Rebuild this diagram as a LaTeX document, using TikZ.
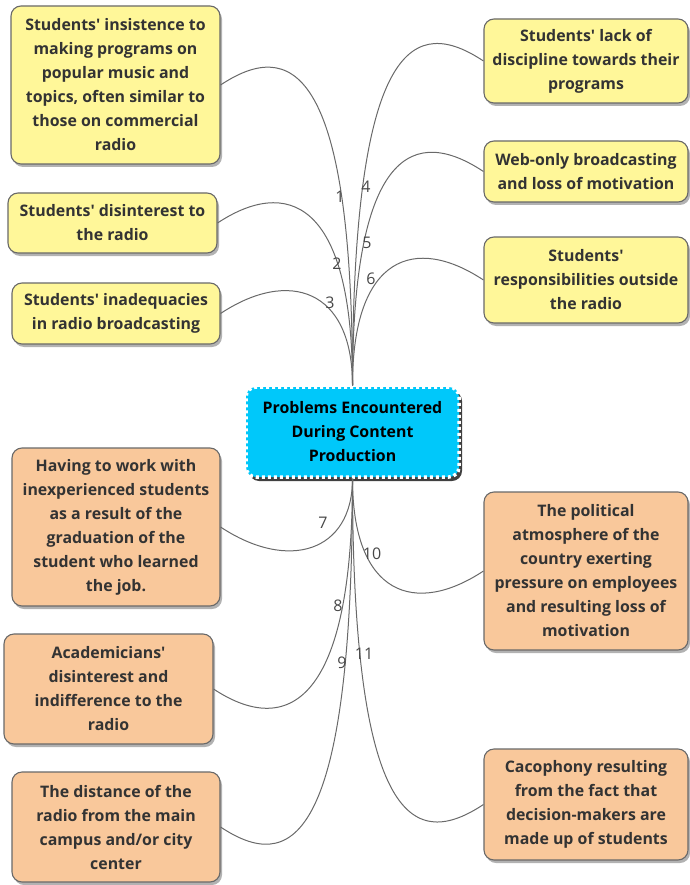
\documentclass[tikz,border=0pt]{standalone}
\usepackage{fontspec}
\setmainfont{Open Sans}
\usetikzlibrary{shadows,calc}

\definecolor{boxyellow}{RGB}{255,247,153}
\definecolor{boxorange}{RGB}{249,200,155}
\definecolor{hubcyan}{RGB}{0,200,250}
\definecolor{edgegray}{RGB}{105,105,105}
\definecolor{txt}{RGB}{51,51,51}

% straight apostrophe
\newcommand\apos{\textquotesingle}

\tikzset{
  card/.style={rounded corners=10pt, draw=edgegray, line width=1.1pt, text=txt,
    font=\bfseries\fontsize{15.9}{24}\selectfont, align=center, inner sep=0pt,
    drop shadow={shadow xshift=2pt, shadow yshift=-3pt, opacity=0.3, fill=black}},
  yel/.style={card, fill=boxyellow},
  ora/.style={card, fill=boxorange},
  hub/.style={rounded corners=10pt, fill=hubcyan, draw=white, line width=3.5pt,
    dash pattern=on 3pt off 3pt, text=black,
    font=\bfseries\fontsize{15.9}{24}\selectfont, align=center, inner sep=0pt,
    minimum width=213pt, minimum height=90pt,
    drop shadow={shadow xshift=3pt, shadow yshift=-4pt, opacity=0.75, fill=black}},
  link/.style={draw=edgegray, line width=1pt},
  num/.style={font=\fontsize{16}{16}\selectfont, text=txt!90, inner sep=0pt}
}

\begin{document}
\begin{tikzpicture}[x=1pt,y=1pt]
\useasboundingbox (0,0) rectangle (689,-885);

% central topic
\node[hub] (hub) at (352.5,-432) {Problems Encountered\\During Content\\Production};

% upper branches (yellow)
\node[yel, minimum width=209pt, minimum height=158pt] (y1) at (115.5,-85)
  {Students\apos{} insistence to\\making programs on\\popular music and\\topics, often similar to\\those on commercial\\radio};
\node[yel, minimum width=209pt, minimum height=60pt] (y2) at (112.5,-223)
  {Students\apos{} disinterest to\\the radio};
\node[yel, minimum width=208pt, minimum height=61pt] (y3) at (116,-313.5)
  {Students\apos{} inadequacies\\in radio broadcasting};
\node[yel, minimum width=204pt, minimum height=84pt] (y4) at (586,-61)
  {Students\apos{} lack of\\discipline towards their\\programs};
\node[yel, minimum width=204pt, minimum height=61pt] (y5) at (586,-171.5)
  {Web-only broadcasting\\and loss of motivation};
\node[yel, minimum width=204pt, minimum height=86pt] (y6) at (586,-280)
  {Students\apos\\responsibilities outside\\the radio};

% lower branches (orange)
\node[ora, minimum width=208pt, minimum height=158pt] (o7) at (116,-527)
  {Having to work with\\inexperienced students\\as a result of the\\graduation of the\\student who learned\\the job.};
\node[ora, minimum width=209pt, minimum height=110pt] (o8) at (108.5,-689)
  {Academicians\apos\\disinterest and\\indifference to the\\radio};
\node[ora, minimum width=208pt, minimum height=110pt] (o9) at (116,-827)
  {The distance of the\\radio from the main\\campus and/or city\\center};
\node[ora, minimum width=204pt, minimum height=158pt] (o10) at (586,-571)
  {The political\\atmosphere of the\\country exerting\\pressure on employees\\and resulting loss of\\motivation};
\node[ora, minimum width=204pt, minimum height=111pt] (o11) at (586,-804.5)
  {Cacophony resulting\\from the fact that\\decision-makers are\\made up of students};

% connectors from the top of the hub
\foreach \b in {y1,y2,y3}
  \draw[link] (hub.north) .. controls ($(hub.north |- \b.east)+(0,25)$)
    and ($(\b.east)+(68,45)$) .. (\b.east);
\foreach \b in {y4,y5,y6}
  \draw[link] (hub.north) .. controls ($(hub.north |- \b.west)+(0,25)$)
    and ($(\b.west)+(-68,45)$) .. (\b.west);

% connectors from the bottom of the hub
\foreach \b in {o7,o8,o9}
  \draw[link] (hub.south) .. controls ($(hub.south |- \b.east)+(0,-25)$)
    and ($(\b.east)+(68,-45)$) .. (\b.east);
\foreach \b in {o10,o11}
  \draw[link] (hub.south) .. controls ($(hub.south |- \b.west)+(0,-25)$)
    and ($(\b.west)+(-68,-45)$) .. (\b.west);

% branch numbers
\node[num] (n1) at (340,-197) {1};
\node[num] (n2) at (337,-264) {2};
\node[num] (n3) at (330,-303) {3};
\node[num] (n4) at (366,-187) {4};
\node[num] (n5) at (367,-243) {5};
\node[num] (n6) at (371,-279) {6};
\node[num] (n7) at (323,-523) {7};
\node[num] (n8) at (338,-606) {8};
\node[num] (n9) at (342,-663) {9};
\node[num] (n10) at (372,-554) {10};
\node[num] (n11) at (364,-654) {11};
\end{tikzpicture}
\end{document}
